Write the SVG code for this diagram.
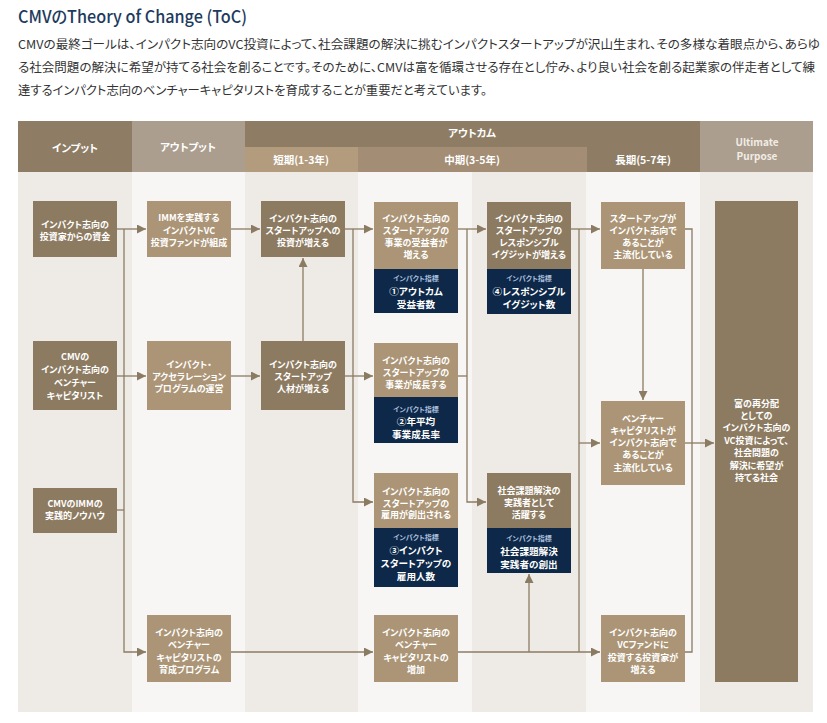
<svg xmlns="http://www.w3.org/2000/svg" width="827" height="723" viewBox="0 0 827 723">
<style>
text{font-family:"Noto Sans CJK JP","Noto Sans",sans-serif;font-feature-settings:"palt";}
.p{font-size:12px;fill:#333;}
.h{font-size:10.5px;font-weight:700;fill:#fff;text-anchor:middle;}
.up{font-size:10px;font-weight:700;fill:#f1ece5;text-anchor:middle;}
.t{font-size:9px;font-weight:700;fill:#fff;text-anchor:middle;}
.k{font-size:7px;font-weight:700;fill:#a9bfdc;text-anchor:middle;}
.v{font-size:9.6px;font-weight:700;fill:#fff;text-anchor:middle;}
.dk{fill:#8d7b61;}
.tn{fill:#ab9576;}
.nv{fill:#0d2848;}
.c{fill:none;stroke:#8c7b63;stroke-width:1.3;}
.a{marker-end:url(#ah);}
</style>
<defs>
<marker id="ah" viewBox="0 0 10 10" refX="10" refY="5" markerWidth="9" markerHeight="9" markerUnits="userSpaceOnUse" orient="auto"><path d="M0,0 L10,5 L0,10 z" fill="#8c7b63"/></marker>
</defs>
<rect width="827" height="723" fill="#ffffff"/>
<text x="18" y="23" font-size="17" font-weight="500" fill="#1d3b5e" textLength="229" lengthAdjust="spacingAndGlyphs">CMVのTheory of Change (ToC)</text>
<text class="p" x="18" y="49" textLength="802" lengthAdjust="spacingAndGlyphs">CMVの最終ゴールは、インパクト志向のVC投資によって、社会課題の解決に挑むインパクトスタートアップが沢山生まれ、その多様な着眼点から、あらゆ</text>
<text class="p" x="18" y="72" textLength="797" lengthAdjust="spacingAndGlyphs">る社会問題の解決に希望が持てる社会を創ることです。そのために、CMVは富を循環させる存在とし佇み、より良い社会を創る起業家の伴走者として練</text>
<text class="p" x="18" y="95" textLength="469" lengthAdjust="spacingAndGlyphs">達するインパクト志向のベンチャーキャピタリストを育成することが重要だと考えています。</text>
<g id="background">
<rect x="18" y="172" width="114" height="540" fill="#eeebe6"/>
<rect x="132" y="172" width="113" height="540" fill="#f7f6f4"/>
<rect x="245" y="172" width="113" height="540" fill="#eeebe6"/>
<rect x="358" y="172" width="114" height="540" fill="#f7f6f4"/>
<rect x="472" y="172" width="114" height="540" fill="#eeebe6"/>
<rect x="586" y="172" width="114" height="540" fill="#f7f6f4"/>
<rect x="700" y="172" width="113" height="540" fill="#eeebe6"/>
</g>
<g id="header">
<rect x="18" y="121" width="114" height="51" fill="#8e7d64"/>
<rect x="132" y="121" width="113" height="51" fill="#ab9e8e"/>
<rect x="245" y="121" width="455" height="26" fill="#8e7d64"/>
<rect x="245" y="147" width="113" height="25" fill="#b39b7d"/>
<rect x="358" y="147" width="229" height="25" fill="#a38d74"/>
<rect x="587" y="147" width="113" height="25" fill="#8e7d64"/>
<rect x="700" y="121" width="113" height="51" fill="#ab9e8e"/>
<text class="h" x="75" y="152">インプット</text>
<text class="h" x="188" y="151">アウトプット</text>
<text class="h" x="472" y="137">アウトカム</text>
<text class="h" x="301" y="164">短期(1-3年)</text>
<text class="h" x="472" y="164">中期(3-5年)</text>
<text class="h" x="643" y="164">長期(5-7年)</text>
<text class="up" x="757" y="146">Ultimate</text>
<text class="up" x="757" y="160">Purpose</text>
</g>
<g id="connectors">
<path class="c a" d="M117,229 H146"/>
<path class="c a" d="M124,229 V652 H146"/>
<path class="c a" d="M117,376 H146"/>
<path class="c" d="M117,510 H124"/>
<path class="c a" d="M231,229 H260"/>
<path class="c a" d="M231,376 H260"/>
<path class="c a" d="M303,341 V258"/>
<path class="c a" d="M345,229 H373"/>
<path class="c a" d="M353,229 V502 H373"/>
<path class="c a" d="M345,376 H373"/>
<path class="c a" d="M458,229 H486"/>
<path class="c a" d="M467,229 V502 H486"/>
<path class="c" d="M458,376 H467"/>
<path class="c a" d="M571,229 H600"/>
<path class="c" d="M579,229 V652"/>
<path class="c a" d="M579,443 H600"/>
<path class="c a" d="M643,269 V400"/>
<path class="c" d="M685,229 H692 V652 H685"/>
<path class="c a" d="M685,443 H714"/>
<path class="c a" d="M231,652 H373"/>
<path class="c a" d="M458,652 H600"/>
<path class="c a" d="M529,652 V574"/>
</g>
<g id="n1"><rect class="dk" x="33" y="201" width="84" height="56"/>
<text class="t" x="75" y="227.5">インパクト志向の</text><text class="t" x="75" y="239.5">投資家からの資金</text></g>
<g id="n2"><rect class="dk" x="33" y="341" width="84" height="69"/>
<text class="t" x="75" y="359.5">CMVの</text><text class="t" x="75" y="372.5">インパクト志向の</text><text class="t" x="75" y="385.5">ベンチャー</text><text class="t" x="75" y="398.5">キャピタリスト</text></g>
<g id="n3"><rect class="dk" x="33" y="488" width="84" height="45"/>
<text class="t" x="75" y="506.5">CMVのIMMの</text><text class="t" x="75" y="518.5">実践的ノウハウ</text></g>
<g id="o1"><rect class="tn" x="147" y="201" width="84" height="56"/>
<text class="t" x="189" y="221">IMMを実践する</text><text class="t" x="189" y="233.5">インパクトVC</text><text class="t" x="189" y="246">投資ファンドが組成</text></g>
<g id="o2"><rect class="tn" x="147" y="341" width="84" height="69"/>
<text class="t" x="189" y="368">インパクト・</text><text class="t" x="189" y="380">アクセラレーション</text><text class="t" x="189" y="392">プログラムの運営</text></g>
<g id="o3"><rect class="tn" x="147" y="615" width="84" height="67"/>
<text class="t" x="189" y="635.5">インパクト志向の</text><text class="t" x="189" y="648">ベンチャー</text><text class="t" x="189" y="660.5">キャピタリストの</text><text class="t" x="189" y="673">育成プログラム</text></g>
<g id="s1"><rect class="dk" x="261" y="201" width="84" height="56"/>
<text class="t" x="303" y="221.5">インパクト志向の</text><text class="t" x="303" y="233.5">スタートアップへの</text><text class="t" x="303" y="245.5">投資が増える</text></g>
<g id="s2"><rect class="dk" x="261" y="341" width="84" height="69"/>
<text class="t" x="303" y="368">インパクト志向の</text><text class="t" x="303" y="380">スタートアップ</text><text class="t" x="303" y="392">人材が増える</text></g>
<g id="m1"><rect class="tn" x="374" y="202" width="84" height="67"/><rect class="nv" x="374" y="269" width="84" height="44"/>
<text class="t" x="416" y="221.5">インパクト志向の</text><text class="t" x="416" y="233.5">スタートアップの</text><text class="t" x="416" y="245.5">事業の受益者が</text><text class="t" x="416" y="257.5">増える</text>
<text class="k" x="416" y="281">インパクト指標</text><text class="v" x="416" y="295">①アウトカム</text><text class="v" x="416" y="308">受益者数</text></g>
<g id="m2"><rect class="tn" x="374" y="343" width="84" height="54"/><rect class="nv" x="374" y="397" width="84" height="46"/>
<text class="t" x="416" y="364">インパクト志向の</text><text class="t" x="416" y="376">スタートアップの</text><text class="t" x="416" y="388">事業が成長する</text>
<text class="k" x="416" y="411.5">インパクト指標</text><text class="v" x="416" y="425">②年平均</text><text class="v" x="416" y="438">事業成長率</text></g>
<g id="m3"><rect class="tn" x="374" y="473" width="84" height="55"/><rect class="nv" x="374" y="528" width="84" height="59"/>
<text class="t" x="416" y="495">インパクト志向の</text><text class="t" x="416" y="506.5">スタートアップの</text><text class="t" x="416" y="518">雇用が創出される</text>
<text class="k" x="416" y="540">インパクト指標</text><text class="v" x="416" y="554">③インパクト</text><text class="v" x="416" y="567">スタートアップの</text><text class="v" x="416" y="580">雇用人数</text></g>
<g id="m4"><rect class="tn" x="374" y="615" width="84" height="67"/>
<text class="t" x="416" y="635.5">インパクト志向の</text><text class="t" x="416" y="648">ベンチャー</text><text class="t" x="416" y="660.5">キャピタリストの</text><text class="t" x="416" y="673">増加</text></g>
<g id="r1"><rect class="dk" x="487" y="202" width="84" height="67"/><rect class="nv" x="487" y="269" width="84" height="45"/>
<text class="t" x="529" y="221.5">インパクト志向の</text><text class="t" x="529" y="233.5">スタートアップの</text><text class="t" x="529" y="245.5">レスポンシブル</text><text class="t" x="529" y="257.5">イグジットが増える</text>
<text class="k" x="529" y="281">インパクト指標</text><text class="v" x="529" y="295">④レスポンシブル</text><text class="v" x="529" y="308">イグジット数</text></g>
<g id="r2"><rect class="dk" x="487" y="473" width="84" height="55"/><rect class="nv" x="487" y="528" width="84" height="45"/>
<text class="t" x="529" y="493.5">社会課題解決の</text><text class="t" x="529" y="505.5">実践者として</text><text class="t" x="529" y="517.5">活躍する</text>
<text class="k" x="529" y="540.5">インパクト指標</text><text class="v" x="529" y="554.5">社会課題解決</text><text class="v" x="529" y="567.5">実践者の創出</text></g>
<g id="l1"><rect class="tn" x="601" y="202" width="84" height="67"/>
<text class="t" x="643" y="221.5">スタートアップが</text><text class="t" x="643" y="233.5">インパクト志向で</text><text class="t" x="643" y="245.5">あることが</text><text class="t" x="643" y="257.5">主流化している</text></g>
<g id="l2"><rect class="tn" x="601" y="401" width="84" height="84"/>
<text class="t" x="643" y="421.5">ベンチャー</text><text class="t" x="643" y="433.5">キャピタリストが</text><text class="t" x="643" y="445.5">インパクト志向で</text><text class="t" x="643" y="458">あることが</text><text class="t" x="643" y="470.5">主流化している</text></g>
<g id="l3"><rect class="tn" x="601" y="615" width="84" height="67"/>
<text class="t" x="643" y="636">インパクト志向の</text><text class="t" x="643" y="648">VCファンドに</text><text class="t" x="643" y="660.5">投資する投資家が</text><text class="t" x="643" y="672.5">増える</text></g>
<g id="u"><rect class="dk" x="715" y="201" width="83" height="481"/>
<text class="t" x="756.5" y="406.5">富の再分配</text><text class="t" x="756.5" y="419">としての</text><text class="t" x="756.5" y="431">インパクト志向の</text><text class="t" x="756.5" y="443.5">VC投資によって、</text><text class="t" x="756.5" y="456">社会問題の</text><text class="t" x="756.5" y="468.5">解決に希望が</text><text class="t" x="756.5" y="481">持てる社会</text></g>
</svg>
